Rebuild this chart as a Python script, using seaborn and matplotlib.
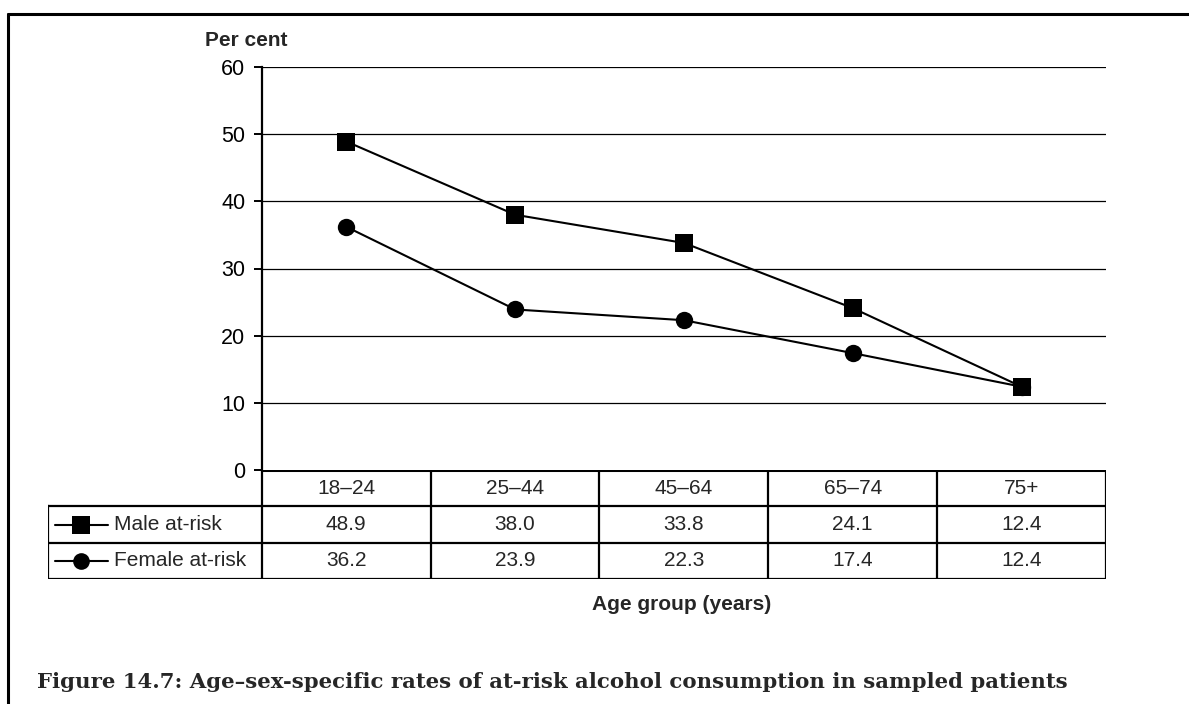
import matplotlib
matplotlib.use("Agg")
import matplotlib.pyplot as plt
import numpy as np
import pandas as pd
import seaborn as sns
from matplotlib.lines import Line2D

# ----- data ---------------------------------------------------------------
AGE_GROUPS = ["18–24", "25–44", "45–64", "65–74", "75+"]
MALE = [48.9, 38.0, 33.8, 24.1, 12.4]
FEMALE = [36.2, 23.9, 22.3, 17.4, 12.4]
SERIES = ["Male at-risk", "Female at-risk"]
Y_TICKS = [0, 10, 20, 30, 40, 50, 60]
CAPTION = ("Figure 14.7: Age–sex-specific rates of at-risk alcohol "
           "consumption in sampled patients")

sns.set_theme(style="white")
plt.rcParams["font.family"] = ["Liberation Sans", "DejaVu Sans"]

df = pd.DataFrame({
    "age": AGE_GROUPS * 2,
    "rate": MALE + FEMALE,
    "who": [SERIES[0]] * len(MALE) + [SERIES[1]] * len(FEMALE),
})
df["pos"] = df["age"].map({a: i for i, a in enumerate(AGE_GROUPS)})

W, H = 1189, 704
fig = plt.figure(figsize=(W / 100, H / 100), dpi=100)
fig.patch.set_facecolor("white")
FS = 15


def fx(px):
    return px / W


def fy(py):
    return 1 - py / H


# main chart area
ax = fig.add_axes([fx(262), fy(470), fx(1106) - fx(262), fy(67) - fy(470)])
sns.lineplot(data=df, x="pos", y="rate", style="who",
             markers={SERIES[0]: "s", SERIES[1]: "o"},
             dashes=False, color="black", lw=1.5, ax=ax, legend=False,
             markersize=13, markeredgewidth=0)
for ln, ms in zip(ax.lines, (13.5, 12.5)):
    ln.set_markersize(ms)
ax.set_xlim(-0.5, len(AGE_GROUPS) - 0.5)
ax.set_ylim(0, 60)
ax.set_yticks(Y_TICKS)
ax.set_xticks([])
for y in Y_TICKS[1:]:
    ax.axhline(y, color="black", lw=0.9, zorder=0)
for s in ("top", "right", "bottom"):
    ax.spines[s].set_visible(False)
ax.spines["left"].set_linewidth(1.6)
ax.spines["left"].set_color("black")
ax.tick_params(axis="y", left=True, length=6, width=1.4, color="black",
               labelsize=15.5, pad=6, labelcolor="black")
ax.set_xlabel("")
ax.set_ylabel("")
ax.set_facecolor("none")

# data table below the chart
n = len(AGE_GROUPS)
leg_w = (262 - 48) / 169.0
tx0 = -0.5 - leg_w
tab = fig.add_axes([fx(48), fy(579), fx(1106) - fx(48), fy(470) - fy(579)])
tab.set_xlim(tx0, n - 0.5)
tab.set_ylim(0, 3)
tab.axis("off")
kw = dict(color="black", lw=1.6, solid_capstyle="projecting")
tab.plot([-0.5, n - 0.5], [3, 3], color="black", lw=2.2,
         solid_capstyle="projecting")
for yy in (2, 1, 0):
    tab.plot([tx0, n - 0.5], [yy, yy], **kw)
for i in range(n + 1):
    tab.plot([i - 0.5, i - 0.5], [0, 3], **kw)
tab.plot([tx0, tx0], [0, 2], **kw)

for i, a in enumerate(AGE_GROUPS):
    tab.text(i, 2.5, a, ha="center", va="center", fontsize=FS)
for row, (vals, mk, ms) in enumerate(((MALE, "s", 13), (FEMALE, "o", 12))):
    yc = 1.5 - row
    for i, v in enumerate(vals):
        tab.text(i, yc, f"{v:.1f}", ha="center", va="center", fontsize=FS)
    lx0 = tx0 + 7 / 169
    lx1 = tx0 + 60 / 169
    tab.add_line(Line2D([lx0, lx1], [yc, yc], color="black", lw=1.5))
    tab.add_line(Line2D([(lx0 + lx1) / 2], [yc], marker=mk, markersize=ms,
                        color="black", markeredgewidth=0, ls="none"))
    tab.text(tx0 + 66 / 169, yc, SERIES[row], ha="left", va="center",
             fontsize=FS)

# labels
fig.text(fx(246), fy(40), "Per cent", ha="center", va="center",
         fontsize=FS, fontweight="bold")
fig.text(fx(682), fy(604), "Age group (years)", ha="center", va="center",
         fontsize=FS, fontweight="bold")
cap = fig.text(fx(37), fy(688), CAPTION, ha="left", va="baseline",
               fontsize=15, fontweight="bold",
               family=["DejaVu Serif", "Liberation Serif"])
# fit caption to the width it takes in the source (37 -> 1073 px)
fig.canvas.draw()
bb = cap.get_window_extent(renderer=fig.canvas.get_renderer())
cap.set_fontsize(15 * (1073 - 37) / bb.width)

# outer frame (top and left edges)
fig.add_artist(Line2D([fx(8), 1.0], [fy(14), fy(14)], color="black", lw=2.2))
fig.add_artist(Line2D([fx(8), fx(8)], [fy(14), 0.0], color="black", lw=2.2))

fig.savefig("out.png", dpi=100)
